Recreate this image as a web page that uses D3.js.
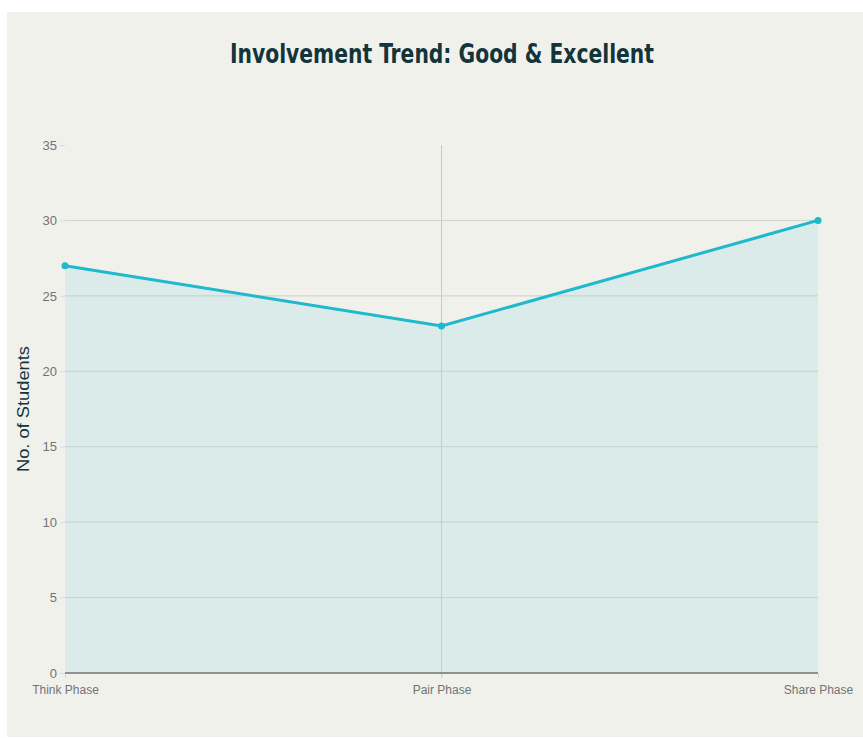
<!DOCTYPE html>
<html>
<head>
<meta charset="utf-8">
<script src="https://cdn.jsdelivr.net/npm/d3@7"></script>
<style>
  body { margin: 0; background: #ffffff; }
  svg { display: block; }
</style>
</head>
<body>
<svg></svg>
<script>
var phases = ["Think Phase", "Pair Phase", "Share Phase"];
var students = [27, 23, 30];
var yTicks = [0, 5, 10, 15, 20, 25, 30, 35];

var svgWidth = 863, svgHeight = 738;
var plotLeft = 65, plotRight = 818, plotTop = 145, plotBottom = 673;

var svg = d3.select("svg")
    .attr("width", svgWidth)
    .attr("height", svgHeight);

// panel background
svg.append("rect")
    .attr("x", 7).attr("y", 12)
    .attr("width", svgWidth - 7).attr("height", 725)
    .attr("fill", "#f1f1ec");

var x = d3.scalePoint().domain(phases).range([plotLeft, plotRight]);
var y = d3.scaleLinear().domain([0, 35]).range([plotBottom, plotTop]);

var gridVals = yTicks.filter(function(d) { return d > 0 && d < 35; });

// horizontal grid
svg.selectAll(".hgrid")
    .data(gridVals)
    .enter()
    .append("line")
    .attr("x1", plotLeft).attr("x2", plotRight)
    .attr("y1", function(d) { return y(d); })
    .attr("y2", function(d) { return y(d); })
    .attr("stroke", "#d9dbd6")
    .attr("stroke-width", 1);

// area
var area = d3.area()
    .x(function(d, i) { return x(phases[i]); })
    .y0(y(0))
    .y1(function(d) { return y(d); });

svg.append("path")
    .datum(students)
    .attr("d", area)
    .attr("fill", "#1fb8cd")
    .attr("fill-opacity", 0.1);

// grid showing through fill
svg.selectAll(".hgrid2")
    .data(gridVals)
    .enter()
    .append("line")
    .attr("x1", plotLeft).attr("x2", plotRight)
    .attr("y1", function(d) { return y(d); })
    .attr("y2", function(d) { return y(d); })
    .attr("stroke", "#c9d3d0")
    .attr("stroke-opacity", 0.6)
    .attr("stroke-width", 1);

// vertical grid at middle category
svg.append("line")
    .attr("x1", x(phases[1])).attr("x2", x(phases[1]))
    .attr("y1", y(35)).attr("y2", y(0) + 5)
    .attr("stroke", "#c8ccc9")
    .attr("stroke-width", 1);

// y axis (labels + small ticks)
var yAxis = svg.append("g")
    .attr("transform", "translate(" + plotLeft + ",0)")
    .call(d3.axisLeft(y).tickValues(yTicks).tickSize(5).tickPadding(3));
yAxis.select(".domain").remove();
yAxis.selectAll(".tick line").attr("stroke", "#d9dbd6");
yAxis.selectAll("text")
    .attr("fill", "#737373")
    .style("font-family", "Liberation Sans, Arial, sans-serif")
    .style("font-size", "13px");

// x axis
var xAxis = svg.append("g")
    .attr("transform", "translate(0," + plotBottom + ")")
    .call(d3.axisBottom(x).tickSize(5).tickPadding(7));
xAxis.select(".domain").remove();
xAxis.selectAll(".tick line").attr("stroke", "#d9dbd6");
xAxis.selectAll("text")
    .attr("fill", "#737373")
    .style("font-family", "Liberation Sans, Arial, sans-serif")
    .style("font-size", "12px");

svg.append("line")
    .attr("x1", plotLeft).attr("x2", plotRight)
    .attr("y1", plotBottom).attr("y2", plotBottom)
    .attr("stroke", "#6f7472")
    .attr("stroke-width", 1.5);

// line + markers
var line = d3.line()
    .x(function(d, i) { return x(phases[i]); })
    .y(function(d) { return y(d); });

svg.append("path")
    .datum(students)
    .attr("d", line)
    .attr("fill", "none")
    .attr("stroke", "#1fb8cd")
    .attr("stroke-width", 3);

svg.selectAll(".dot")
    .data(students)
    .enter()
    .append("circle")
    .attr("cx", function(d, i) { return x(phases[i]); })
    .attr("cy", function(d) { return y(d); })
    .attr("r", 3.5)
    .attr("fill", "#1fb8cd");

// title
svg.append("text")
    .attr("x", 442).attr("y", 63)
    .attr("text-anchor", "middle")
    .attr("fill", "#13343b")
    .attr("textLength", 424)
    .attr("lengthAdjust", "spacingAndGlyphs")
    .style("font-family", "DejaVu Sans Condensed, DejaVu Sans, sans-serif")
    .style("font-weight", "bold")
    .style("font-size", "27px")
    .text("Involvement Trend: Good & Excellent");

// y axis title
svg.append("text")
    .attr("transform", "translate(29,409) rotate(-90)")
    .attr("text-anchor", "middle")
    .attr("fill", "#13343b")
    .attr("textLength", 126)
    .attr("lengthAdjust", "spacingAndGlyphs")
    .style("font-family", "Liberation Sans, Arial, sans-serif")
    .style("font-size", "16px")
    .text("No. of Students");
</script>
</body>
</html>
